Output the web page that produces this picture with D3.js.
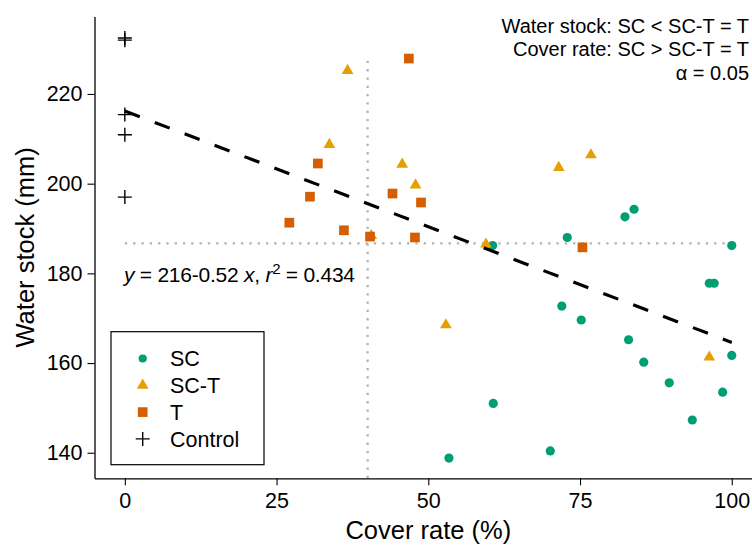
<!DOCTYPE html>
<html>
<head>
<meta charset="utf-8">
<script src="https://cdn.jsdelivr.net/npm/d3@7"></script>
<style>
	body { margin: 0; background: #fff; }
	svg { display: block; font-family: "Liberation Sans", Arial, sans-serif; }
</style>
</head>
<body>
<svg id="chart" width="752" height="548"></svg>
<script>
// values: [cover rate %, water stock mm]
var scPoints = [
	[60.6, 186.2], [72.9, 188.0], [82.4, 192.6], [83.9, 194.3], [100, 186.2],
	[72.0, 172.7], [75.2, 169.6], [83.0, 165.2], [85.5, 160.2], [89.7, 155.6],
	[93.5, 147.3], [98.5, 153.5], [100, 161.7], [96.3, 177.8], [97.1, 177.8],
	[60.7, 151.0], [53.4, 138.8], [70.1, 140.4]
];
var sctPoints = [
	[36.7, 225.2], [33.7, 208.7], [40.6, 188.4], [45.7, 204.3], [47.9, 199.7],
	[71.5, 203.6], [76.8, 206.4], [59.5, 186.5], [52.9, 168.5], [96.3, 161.3]
];
var tPoints = [
	[46.8, 227.9], [31.8, 204.5], [30.5, 197.1], [27.1, 191.3], [36.1, 189.6],
	[40.4, 188.2], [44.1, 197.8], [48.8, 195.8], [47.8, 188.0], [75.4, 185.8]
];
var controlPoints = [
	[0, 232.5], [0, 232.0], [0, 215.4], [0, 210.9], [0, 197.0]
];

var groups = ["SC", "SC-T", "T", "Control"];
var xTicks = [0, 25, 50, 75, 100];
var yTicks = [140, 160, 180, 200, 220];

// fitted line y = a + b x
var fitIntercept = 216.2, fitSlope = -0.516;
var fitRange = [0, 100];

// dotted reference lines
var coverThreshold = 40, coverTop = 227.4;
var stockThreshold = 186.7;

var notes = ["Water stock: SC < SC-T = T", "Cover rate: SC > SC-T = T", "\u03b1 = 0.05"];

var colors = {"SC": "#009E73", "SC-T": "#E69F00", "T": "#D55E00", "Control": "#000"};

var svg = d3.select("#chart");

var x = d3.scaleLinear().domain([-5, 105]).range([94.5, 762.1]);
var y = d3.scaleLinear().domain([134.3, 237.3]).range([478.3, 16.4]);

// reference lines (below the points)
svg.append("line")
	.attr("x1", x(coverThreshold)).attr("x2", x(coverThreshold))
	.attr("y1", y(coverTop)).attr("y2", y(134.3))
	.attr("stroke", "#b3b3b3").attr("stroke-width", 2.3)
	.attr("stroke-dasharray", "2.3,6");
svg.append("line")
	.attr("x1", x(0)).attr("x2", x(100))
	.attr("y1", y(stockThreshold)).attr("y2", y(stockThreshold))
	.attr("stroke", "#b3b3b3").attr("stroke-width", 2.3)
	.attr("stroke-dasharray", "2.3,6");

// marks
var crossPath = function(h){ return "M" + (-h) + ",0H" + h + "M0," + (-h) + "V" + h; };

function drawSymbol(g, group, px, py, legend) {
	if (group === "SC") {
		g.append("circle").attr("cx", px).attr("cy", py).attr("r", legend ? 4.1 : 4.6)
			.attr("fill", colors.SC);
	} else if (group === "SC-T") {
		g.append("path").attr("d", d3.symbol(d3.symbolTriangle, 60)())
			.attr("transform", "translate(" + px + "," + py + ")")
			.attr("fill", colors["SC-T"]);
	} else if (group === "T") {
		g.append("path").attr("d", d3.symbol(d3.symbolSquare, 94)())
			.attr("transform", "translate(" + px + "," + py + ")")
			.attr("fill", colors.T);
	} else {
		g.append("path").attr("d", crossPath(7))
			.attr("transform", "translate(" + px + "," + py + ")")
			.attr("stroke", "#000").attr("stroke-width", 1.4).attr("fill", "none");
	}
}

var pts = svg.append("g");
scPoints.forEach(function(d){ drawSymbol(pts, "SC", x(d[0]), y(d[1])); });
sctPoints.forEach(function(d){ drawSymbol(pts, "SC-T", x(d[0]), y(d[1])); });
tPoints.forEach(function(d){ drawSymbol(pts, "T", x(d[0]), y(d[1])); });
controlPoints.forEach(function(d){ drawSymbol(pts, "Control", x(d[0]), y(d[1])); });

// regression line
svg.append("line")
	.attr("x1", x(fitRange[0])).attr("y1", y(fitIntercept + fitSlope * fitRange[0]))
	.attr("x2", x(fitRange[1])).attr("y2", y(fitIntercept + fitSlope * fitRange[1]))
	.attr("stroke", "#000").attr("stroke-width", 3.2)
	.attr("stroke-dasharray", "16,16");

// axes
var xAxis = svg.append("g").attr("transform", "translate(0," + 478.3 + ")")
	.call(d3.axisBottom(x).tickValues(xTicks).tickSize(7).tickSizeOuter(0).tickPadding(7));
var yAxis = svg.append("g").attr("transform", "translate(" + 94.5 + ",0)")
	.call(d3.axisLeft(y).tickValues(yTicks).tickSize(7).tickSizeOuter(0).tickPadding(5));
[xAxis, yAxis].forEach(function(a){
	a.selectAll("path.domain").attr("stroke", "#000").attr("stroke-width", 1.3);
	a.selectAll(".tick line").attr("stroke", "#000").attr("stroke-width", 1.1);
	a.selectAll(".tick text").attr("fill", "#000").style("font-size", "21.5px")
		.style("font-family", "'Liberation Sans', Arial, sans-serif");
});

svg.append("text").attr("x", 428.3).attr("y", 539).attr("text-anchor", "middle")
	.style("font-size", "25.5px").text("Cover rate (%)");
svg.append("text").attr("transform", "translate(34," + 247.4 + ") rotate(-90)")
	.attr("text-anchor", "middle").style("font-size", "25.5px").text("Water stock (mm)");

// notes, top right
notes.forEach(function(t, i){
	svg.append("text").attr("x", 749).attr("y", 33.3 + i * 23.1)
		.attr("text-anchor", "end").style("font-size", "20px").text(t);
});

// fit equation
var eq = svg.append("text").attr("x", 124).attr("y", 281.7).style("font-size", "21px")
	.attr("textLength", 231).attr("lengthAdjust", "spacing");
eq.append("tspan").style("font-style", "italic").text("y");
eq.append("tspan").text(" = 216-0.52 ");
eq.append("tspan").style("font-style", "italic").text("x");
eq.append("tspan").text(", ");
eq.append("tspan").style("font-style", "italic").text("r");
eq.append("tspan").attr("dy", -8).style("font-size", "15px").text("2");
eq.append("tspan").attr("dy", 8).text(" = 0.434");

// legend
var legend = svg.append("g");
legend.append("rect").attr("x", 111).attr("y", 331.7).attr("width", 153).attr("height", 133)
	.attr("fill", "#fff").attr("stroke", "#000").attr("stroke-width", 1.2);
groups.forEach(function(gname, i){
	var cy = 358.5 + i * 26.8;
	drawSymbol(legend, gname, 142.7, cy, true);
	legend.append("text").attr("x", 170).attr("y", cy).attr("dy", "0.36em")
		.style("font-size", "21.5px").text(gname);
});
</script>
</body>
</html>
